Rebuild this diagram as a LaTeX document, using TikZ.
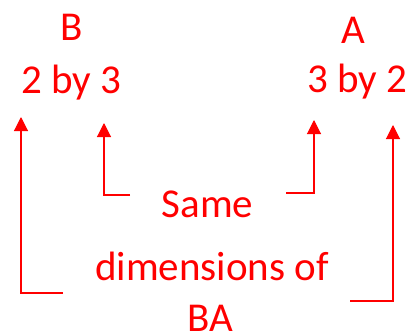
\documentclass[tikz,border=0pt]{standalone}
\usepackage{fontspec}
\setmainfont{Carlito}
\usetikzlibrary{arrows.meta}

\begin{document}
\begin{tikzpicture}[
  x=1pt, y=-1pt,
  lbl/.style={text=red, inner sep=0pt, anchor=base, font=\fontsize{41}{49}\selectfont},
  arrow/.style={-{Triangle[width=14pt,length=14pt]}, red, line width=1.1pt}
]
\useasboundingbox (0,0) rectangle (413,335);

\node[lbl] (bname) at (72,40) {B};
\node[lbl] (b23) at (71,93) {2 by 3};
\node[lbl] (aname) at (353.5,43) {A};
\node[lbl] (a32) at (357,92) {3 by 2};

\node[lbl] (same) at (207.5,217) {Same};
\node[lbl] (dims) at (212,280) {dimensions of};
\node[lbl] (ba) at (210.5,331) {BA};

\draw[arrow] ([xshift=-77.5pt,yshift=22pt]same.base) -| ([xshift=33pt,yshift=-30pt]b23.base);
\draw[arrow] ([xshift=78.5pt,yshift=24pt]same.base) -| ([xshift=-43pt,yshift=-28pt]a32.base);
\draw[arrow] ([xshift=-149pt,yshift=-13pt]dims.base) -| ([xshift=-50pt,yshift=-24pt]b23.base);
\draw[arrow] ([xshift=138pt,yshift=-21pt]dims.base) -| ([xshift=36pt,yshift=-33pt]a32.base);
\end{tikzpicture}
\end{document}
